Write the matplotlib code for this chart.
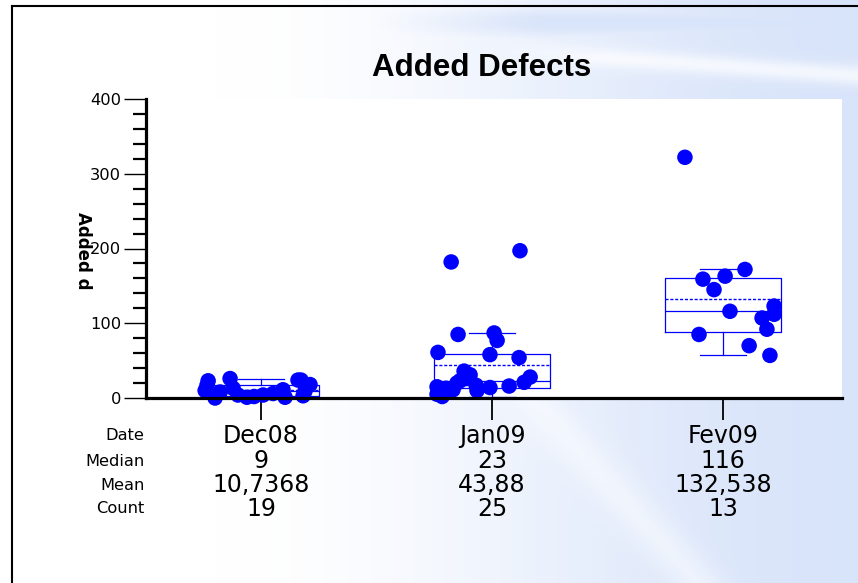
import numpy as np
import matplotlib
matplotlib.use('Agg')
import matplotlib.pyplot as plt
from matplotlib import cbook
from matplotlib.lines import Line2D
from matplotlib.ticker import MultipleLocator

# ---------------- data ----------------
categories = ['Dec08', 'Jan09', 'Fev09']
dec08 = [23, 26, 24, 24, 18, 17, 10, 13, 11, 9, 8, 6, 4, 4, 3, 2, 1, 1, 0]
jan09 = [182, 197, 85, 87, 77, 61, 58, 54, 36, 31, 28, 26, 23, 21, 20, 17, 16, 15,
         14, 13, 11, 10, 8, 5, 2]
fev09 = [322, 159, 163, 172, 145, 116, 123, 112, 107, 92, 85, 70, 57]
# horizontal jitter of each dot (category units)
dec08_jitter = [-0.229, -0.134, 0.173, 0.160, 0.212, -0.234, -0.242, -0.121, 0.095, 0.190,
                -0.177, 0.052, -0.100, 0.009, 0.182, -0.030, -0.061, 0.104, -0.199]
jan09_jitter = [-0.177, 0.121, -0.147, 0.009, 0.022, -0.234, -0.009, 0.117, -0.121, -0.095,
                0.165, -0.113, -0.139, 0.139, -0.152, -0.069, 0.074, -0.238, -0.009, -0.199,
                -0.169, -0.065, -0.221, -0.238, -0.216]
fev09_jitter = [-0.165, -0.087, 0.009, 0.095, -0.039, 0.030, 0.221, 0.221, 0.169, 0.190,
                -0.104, 0.113, 0.203]
median_labels = ['9', '23', '116']
mean_labels = ['10,7368', '43,88', '132,538']
count_labels = ['19', '25', '13']
row_names = ['Date', 'Median', 'Mean', 'Count']
yticks = [0, 100, 200, 300, 400]

groups = [dec08, jan09, fev09]
jitters = [dec08_jitter, jan09_jitter, fev09_jitter]

BLUE = '#0000ff'
W, H = 858, 583
fig = plt.figure(figsize=(W / 100, H / 100), dpi=100)

# ---------------- background swoosh ----------------
bg = fig.add_axes([0, 0, 1, 1], zorder=-10)
yy, xx = np.mgrid[0:H, 0:W].astype(float)
u = xx / W
t = np.clip((u - 0.25) / 0.75, 0, 1)
f = t * t * (3 - 2 * t) * 0.75
top_band = np.exp(-((yy - 22) / 20) ** 2) * np.clip((xx - 340) / 200, 0, 1) * 0.75
f = np.maximum(f, top_band)
yc = 50 + (xx - 500) * 0.07
streak = np.exp(-((yy - yc) / 10) ** 2) * np.clip((xx - 480) / 120, 0, 1)
f = f * (1 - 0.7 * streak)
yc2 = 430 + (xx - 560) * 1.1
streak2 = np.exp(-((yy - yc2) / 30) ** 2) * (yy > 400)
f = f * (1 - 0.45 * streak2)
base = np.array([0.80, 0.86, 0.975])
img = 1 - f[..., None] * (1 - base)
bg.imshow(img, extent=[0, 1, 0, 1], aspect='auto', origin='upper')
bg.set_axis_off()

# frame lines
fig.add_artist(Line2D([11.5 / W, 11.5 / W], [0, 1 - 5.5 / H], color='black', lw=1.5,
                      transform=fig.transFigure))
fig.add_artist(Line2D([11.5 / W, 1], [1 - 5.5 / H, 1 - 5.5 / H], color='black', lw=1.5,
                      transform=fig.transFigure))

# ---------------- main axes ----------------
ax = fig.add_axes([146 / W, 1 - 398 / H, (842 - 146) / W, (398 - 99) / H])
ax.set_facecolor('white')
positions = [1, 2, 3]

stats = cbook.boxplot_stats(groups, whis=1.5)
for s, d in zip(stats, groups):
    d = np.asarray(d, float)
    q1, q3 = np.percentile(d, [25, 75], method='weibull')
    iqr = q3 - q1
    s['q1'], s['q3'] = q1, q3
    s['whishi'] = d[d <= q3 + 1.5 * iqr].max()
    s['whislo'] = d[d >= q1 - 1.5 * iqr].min()

lp = dict(color=BLUE, lw=0.9)
ax.bxp(stats, positions=positions, widths=0.506, capwidths=0.2, showmeans=True,
       meanline=True, showfliers=False, boxprops=lp, whiskerprops=lp, capprops=lp,
       medianprops=lp, meanprops=dict(color=BLUE, lw=1.0, ls=(0, (2.2, 1.3))),
       manage_ticks=False, zorder=2)

for pos, d, j in zip(positions, groups, jitters):
    ax.scatter(np.array(j) + pos, d, s=125, color=BLUE, edgecolors='none',
               zorder=3, clip_on=False)

ax.set_xlim(0.502, 3.515)
ax.set_ylim(0, 400)
ax.set_yticks(yticks)
ax.yaxis.set_minor_locator(MultipleLocator(20))
ax.set_xticks(positions)
ax.set_xticklabels([])
for side in ['top', 'right']:
    ax.spines[side].set_visible(False)
for side in ['left', 'bottom']:
    ax.spines[side].set_linewidth(2.3)
    ax.spines[side].set_zorder(4)
ax.tick_params(axis='y', which='major', direction='out', length=16, width=1.0,
               labelsize=11.7, pad=2)
ax.tick_params(axis='y', which='minor', direction='out', length=9.5, width=1.6)
ax.tick_params(axis='x', which='major', direction='out', length=16, width=1.3)

# table rows under the axis
row_y = [-0.127, -0.211, -0.291, -0.371]
rows = [categories, median_labels, mean_labels, count_labels]
tr = ax.get_xaxis_transform()
for ry, labels in zip(row_y, rows):
    for pos, lab in zip(positions, labels):
        ax.text(pos, ry, lab, transform=tr, ha='center', va='center', fontsize=17,
                family='DejaVu Sans')
for ry, name in zip(row_y, row_names):
    ax.text(-0.002, ry, name, transform=ax.transAxes, ha='right', va='center',
            fontsize=11.7, family='DejaVu Sans')

fig.text(482 / W, 1 - 68 / H, 'Added Defects', ha='center', va='center',
         fontsize=22.5, fontweight='bold', family='Liberation Sans')
fig.text(83 / W, 1 - 251 / H, 'Added d', ha='center', va='center', rotation=270,
         fontsize=12, fontweight='bold', family='DejaVu Sans')

fig.savefig('out.png', dpi=100)
